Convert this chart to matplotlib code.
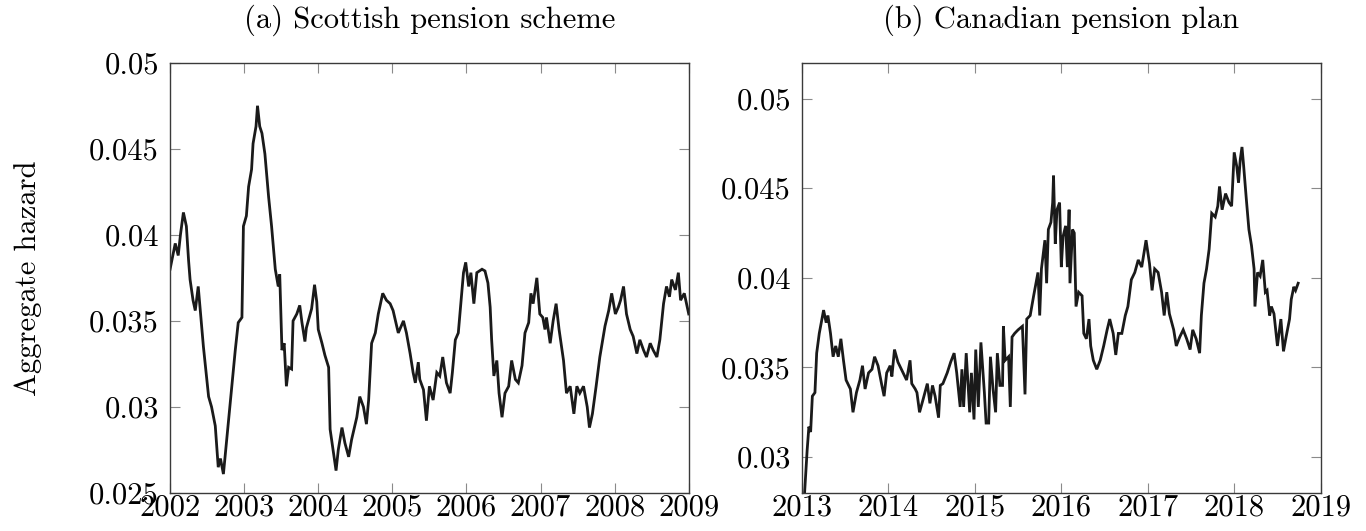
import matplotlib
matplotlib.use("Agg")
import matplotlib.pyplot as plt

plt.rcParams["font.family"] = ["cmr10", "DejaVu Serif"]
plt.rcParams["mathtext.fontset"] = "cm"
plt.rcParams["axes.unicode_minus"] = False

# (a) Scottish pension scheme: aggregate hazard over time
scot_t = [
    2002.00, 2002.07, 2002.11, 2002.14, 2002.18, 2002.22, 2002.25, 2002.27, 2002.31, 2002.34,
    2002.38, 2002.41, 2002.45, 2002.52, 2002.56, 2002.61, 2002.65, 2002.68, 2002.72, 2002.76,
    2002.81, 2002.88, 2002.92, 2002.97, 2002.99, 2003.03, 2003.06, 2003.10, 2003.12, 2003.16,
    2003.18, 2003.21, 2003.24, 2003.28, 2003.33, 2003.37, 2003.42, 2003.46, 2003.48, 2003.51,
    2003.54, 2003.57, 2003.60, 2003.64, 2003.66, 2003.71, 2003.75, 2003.78, 2003.82, 2003.84,
    2003.91, 2003.95, 2003.98, 2004.00, 2004.05, 2004.09, 2004.14, 2004.16, 2004.20, 2004.24,
    2004.27, 2004.32, 2004.36, 2004.41, 2004.45, 2004.52, 2004.56, 2004.61, 2004.65, 2004.68,
    2004.72, 2004.77, 2004.81, 2004.87, 2004.92, 2004.97, 2005.01, 2005.08, 2005.15, 2005.19,
    2005.24, 2005.28, 2005.31, 2005.35, 2005.37, 2005.42, 2005.46, 2005.50, 2005.55, 2005.60,
    2005.64, 2005.68, 2005.73, 2005.78, 2005.81, 2005.85, 2005.89, 2005.92, 2005.96, 2005.99,
    2006.03, 2006.06, 2006.10, 2006.14, 2006.21, 2006.25, 2006.29, 2006.32, 2006.34, 2006.37,
    2006.41, 2006.44, 2006.48, 2006.52, 2006.57, 2006.61, 2006.66, 2006.70, 2006.75, 2006.79,
    2006.84, 2006.87, 2006.90, 2006.95, 2006.99, 2007.03, 2007.06, 2007.08, 2007.13, 2007.17,
    2007.21, 2007.25, 2007.31, 2007.35, 2007.40, 2007.45, 2007.49, 2007.53, 2007.58, 2007.63,
    2007.66, 2007.70, 2007.75, 2007.80, 2007.87, 2007.92, 2007.96, 2008.01, 2008.05, 2008.08,
    2008.12, 2008.16, 2008.21, 2008.25, 2008.30, 2008.34, 2008.39, 2008.43, 2008.48, 2008.52,
    2008.57, 2008.61, 2008.66, 2008.70, 2008.74, 2008.77, 2008.82, 2008.86, 2008.89, 2008.94,
    2009.00,
]
scot_h = [
    0.0380, 0.0395, 0.0388, 0.0400, 0.0413, 0.0405, 0.0385, 0.0374, 0.0362, 0.0356,
    0.0370, 0.0355, 0.0335, 0.0306, 0.0300, 0.0289, 0.0265, 0.0270, 0.0261, 0.0279,
    0.0302, 0.0333, 0.0349, 0.0352, 0.0405, 0.0411, 0.0428, 0.0438, 0.0453, 0.0463,
    0.0475, 0.0463, 0.0459, 0.0447, 0.0422, 0.0405, 0.0380, 0.0370, 0.0377, 0.0333,
    0.0337, 0.0312, 0.0323, 0.0322, 0.0350, 0.0354, 0.0359, 0.0349, 0.0338, 0.0346,
    0.0357, 0.0371, 0.0361, 0.0345, 0.0337, 0.0330, 0.0323, 0.0287, 0.0275, 0.0263,
    0.0275, 0.0288, 0.0279, 0.0271, 0.0281, 0.0294, 0.0306, 0.0300, 0.0290, 0.0304,
    0.0337, 0.0343, 0.0354, 0.0366, 0.0362, 0.0360, 0.0356, 0.0343, 0.0350, 0.0343,
    0.0331, 0.0320, 0.0314, 0.0326, 0.0316, 0.0310, 0.0292, 0.0312, 0.0304, 0.0320,
    0.0318, 0.0329, 0.0314, 0.0308, 0.0320, 0.0339, 0.0343, 0.0358, 0.0378, 0.0384,
    0.0370, 0.0378, 0.0360, 0.0378, 0.0380, 0.0379, 0.0372, 0.0358, 0.0339, 0.0318,
    0.0327, 0.0308, 0.0294, 0.0308, 0.0312, 0.0327, 0.0316, 0.0314, 0.0324, 0.0343,
    0.0349, 0.0366, 0.0360, 0.0375, 0.0354, 0.0352, 0.0345, 0.0352, 0.0337, 0.0350,
    0.0360, 0.0345, 0.0327, 0.0308, 0.0312, 0.0296, 0.0312, 0.0308, 0.0312, 0.0300,
    0.0288, 0.0296, 0.0312, 0.0329, 0.0347, 0.0356, 0.0366, 0.0354, 0.0358, 0.0362,
    0.0370, 0.0354, 0.0345, 0.0341, 0.0331, 0.0339, 0.0333, 0.0329, 0.0337, 0.0333,
    0.0329, 0.0339, 0.0360, 0.0370, 0.0364, 0.0374, 0.0368, 0.0378, 0.0362, 0.0366,
    0.0354,
]

# (b) Canadian pension plan: aggregate hazard over time
cpp_t = [
    2013.03, 2013.06, 2013.08, 2013.10, 2013.12, 2013.15, 2013.17, 2013.20, 2013.23, 2013.25,
    2013.28, 2013.30, 2013.33, 2013.36, 2013.39, 2013.42, 2013.45, 2013.48, 2013.51, 2013.56,
    2013.59, 2013.63, 2013.67, 2013.70, 2013.73, 2013.77, 2013.81, 2013.84, 2013.88, 2013.92,
    2013.95, 2013.98, 2014.02, 2014.04, 2014.07, 2014.11, 2014.15, 2014.19, 2014.21, 2014.25,
    2014.27, 2014.31, 2014.33, 2014.36, 2014.40, 2014.45, 2014.48, 2014.51, 2014.54, 2014.58,
    2014.60, 2014.63, 2014.68, 2014.72, 2014.76, 2014.79, 2014.83, 2014.85, 2014.87, 2014.90,
    2014.94, 2014.96, 2014.99, 2015.01, 2015.04, 2015.07, 2015.11, 2015.13, 2015.16, 2015.18,
    2015.21, 2015.24, 2015.26, 2015.29, 2015.32, 2015.33, 2015.35, 2015.39, 2015.41, 2015.43,
    2015.46, 2015.50, 2015.55, 2015.58, 2015.60, 2015.64, 2015.68, 2015.73, 2015.75, 2015.77,
    2015.81, 2015.83, 2015.85, 2015.88, 2015.90, 2015.91, 2015.93, 2015.95, 2015.98, 2016.00,
    2016.02, 2016.05, 2016.07, 2016.09, 2016.10, 2016.13, 2016.15, 2016.17, 2016.20, 2016.24,
    2016.26, 2016.29, 2016.32, 2016.34, 2016.37, 2016.41, 2016.45, 2016.49, 2016.53, 2016.56,
    2016.60, 2016.63, 2016.66, 2016.70, 2016.74, 2016.77, 2016.81, 2016.85, 2016.89, 2016.93,
    2016.98, 2017.02, 2017.05, 2017.08, 2017.12, 2017.16, 2017.19, 2017.22, 2017.25, 2017.30,
    2017.33, 2017.37, 2017.41, 2017.45, 2017.49, 2017.52, 2017.56, 2017.60, 2017.62, 2017.65,
    2017.68, 2017.71, 2017.74, 2017.78, 2017.81, 2017.83, 2017.86, 2017.90, 2017.94, 2017.97,
    2018.00, 2018.03, 2018.05, 2018.07, 2018.09, 2018.11, 2018.14, 2018.17, 2018.20, 2018.23,
    2018.24, 2018.27, 2018.30, 2018.33, 2018.36, 2018.38, 2018.41, 2018.43, 2018.46, 2018.50,
    2018.54, 2018.57, 2018.60, 2018.64, 2018.66, 2018.69, 2018.71, 2018.74,
]
cpp_h = [
    0.0280, 0.0304, 0.0317, 0.0314, 0.0334, 0.0336, 0.0358, 0.0369, 0.0377, 0.0382,
    0.0375, 0.0379, 0.0369, 0.0356, 0.0362, 0.0356, 0.0366, 0.0354, 0.0343, 0.0338,
    0.0325, 0.0336, 0.0343, 0.0351, 0.0338, 0.0347, 0.0349, 0.0356, 0.0351, 0.0341,
    0.0334, 0.0347, 0.0351, 0.0345, 0.0360, 0.0353, 0.0349, 0.0345, 0.0343, 0.0354,
    0.0341, 0.0338, 0.0336, 0.0325, 0.0332, 0.0341, 0.0330, 0.0340, 0.0334, 0.0322,
    0.0340, 0.0341, 0.0347, 0.0353, 0.0358, 0.0347, 0.0328, 0.0349, 0.0328, 0.0358,
    0.0325, 0.0347, 0.0321, 0.0360, 0.0328, 0.0364, 0.0336, 0.0319, 0.0319, 0.0356,
    0.0338, 0.0325, 0.0358, 0.0340, 0.0340, 0.0373, 0.0354, 0.0356, 0.0328, 0.0367,
    0.0369, 0.0371, 0.0373, 0.0335, 0.0377, 0.0379, 0.0390, 0.0403, 0.0379, 0.0405,
    0.0421, 0.0397, 0.0427, 0.0431, 0.0442, 0.0457, 0.0419, 0.0438, 0.0442, 0.0406,
    0.0423, 0.0429, 0.0406, 0.0438, 0.0397, 0.0427, 0.0425, 0.0384, 0.0392, 0.0390,
    0.0369, 0.0366, 0.0377, 0.0362, 0.0354, 0.0349, 0.0354, 0.0362, 0.0371, 0.0377,
    0.0369, 0.0357, 0.0369, 0.0369, 0.0379, 0.0384, 0.0399, 0.0403, 0.0410, 0.0406,
    0.0421, 0.0408, 0.0393, 0.0405, 0.0403, 0.0392, 0.0379, 0.0392, 0.0380, 0.0371,
    0.0362, 0.0367, 0.0371, 0.0366, 0.0360, 0.0371, 0.0366, 0.0358, 0.0379, 0.0397,
    0.0405, 0.0416, 0.0436, 0.0434, 0.0440, 0.0451, 0.0438, 0.0447, 0.0442, 0.0440,
    0.0470, 0.0462, 0.0453, 0.0466, 0.0473, 0.0462, 0.0444, 0.0427, 0.0418, 0.0405,
    0.0384, 0.0403, 0.0401, 0.0410, 0.0392, 0.0393, 0.0379, 0.0384, 0.0380, 0.0362,
    0.0377, 0.0359, 0.0367, 0.0377, 0.0388, 0.0395, 0.0393, 0.0397,
]

titles = ["(a) Scottish pension scheme", "(b) Canadian pension plan"]
ylabel = "Aggregate hazard"

scot_xticks = [2002, 2003, 2004, 2005, 2006, 2007, 2008, 2009]
scot_yticks = [0.025, 0.03, 0.035, 0.04, 0.045, 0.05]
scot_yticklabels = ["0.025", "0.03", "0.035", "0.04", "0.045", "0.05"]
cpp_xticks = [2013, 2014, 2015, 2016, 2017, 2018, 2019]
cpp_yticks = [0.03, 0.035, 0.04, 0.045, 0.05]
cpp_yticklabels = ["0.03", "0.035", "0.04", "0.045", "0.05"]

fig = plt.figure(figsize=(13.66, 5.31), dpi=100)
ax1 = fig.add_axes([0.1245, 0.0716, 0.3797, 0.8103])
ax2 = fig.add_axes([0.5871, 0.0716, 0.3797, 0.8103])

line_kw = dict(color="#1a1a1a", lw=2.0, solid_joinstyle="miter")
ax1.plot(scot_t, scot_h, **line_kw)
ax2.plot(cpp_t, cpp_h, **line_kw)

specs = [
    (ax1, scot_xticks, scot_yticks, scot_yticklabels, (2002, 2009), (0.025, 0.05)),
    (ax2, cpp_xticks, cpp_yticks, cpp_yticklabels, (2013, 2019), (0.028, 0.052)),
]
for (ax, xt, yt, ytl, xl, yl), title in zip(specs, titles):
    ax.set_xlim(*xl)
    ax.set_ylim(*yl)
    ax.set_xticks(xt)
    ax.set_xticklabels([str(v) for v in xt])
    ax.set_yticks(yt)
    ax.set_yticklabels(ytl)
    ax.tick_params(direction="in", length=7.5, width=0.8, color="#8a8a8a",
                   top=True, right=True, labelsize=22)
    ax.tick_params(axis="x", pad=0.5)
    ax.tick_params(axis="y", pad=8)
    for s in ax.spines.values():
        s.set_color("#3a3a3a")
        s.set_linewidth(1.0)
    ax.set_title(title, fontsize=22, pad=25)

ax1.set_ylabel(ylabel, fontsize=22, labelpad=34)

fig.savefig("out.png", dpi=100)
